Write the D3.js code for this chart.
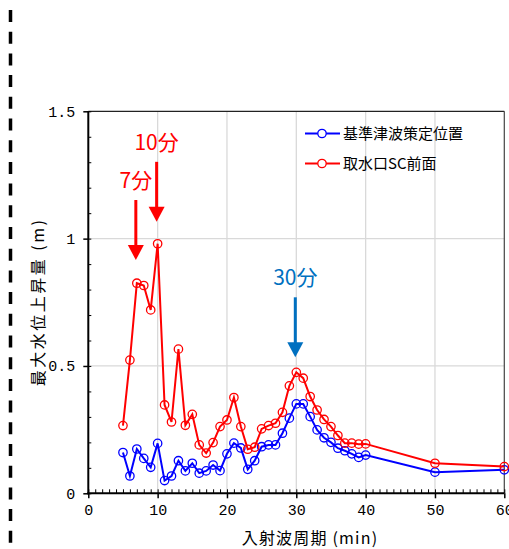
<!DOCTYPE html>
<html>
<head>
<meta charset="utf-8">
<script src="https://cdn.jsdelivr.net/npm/d3@7/dist/d3.min.js"></script>
<style>
  html, body { margin: 0; padding: 0; background: #fff; }
  svg { display: block; }
  text { font-family: 'Noto Sans CJK JP', sans-serif; }
  .tick text { font-family: 'Liberation Mono', 'Noto Sans CJK JP', monospace; }
</style>
</head>
<body>
<svg id="chart" width="509" height="549"></svg>
<script>
// ---- Data ----
const periods = [5,6,7,8,9,10,11,12,13,14,15,16,17,18,19,20,21,22,23,24,25,26,27,28,29,30,31,32,33,34,35,36,37,38,39,40,50,60];
const kijunValues = [0.160,0.068,0.174,0.137,0.102,0.196,0.050,0.068,0.128,0.088,0.118,0.079,0.088,0.111,0.089,0.155,0.197,0.178,0.094,0.128,0.183,0.190,0.190,0.236,0.295,0.351,0.351,0.301,0.249,0.218,0.200,0.177,0.167,0.155,0.141,0.150,0.083,0.092];
const intakeValues = [0.266,0.523,0.825,0.816,0.720,0.980,0.347,0.280,0.566,0.267,0.310,0.190,0.158,0.199,0.262,0.288,0.376,0.262,0.173,0.181,0.253,0.266,0.275,0.318,0.422,0.475,0.452,0.380,0.327,0.290,0.262,0.227,0.197,0.197,0.193,0.194,0.118,0.105];
const seriesNames = ["基準津波策定位置", "取水口SC前面"];
const seriesColors = ["#0000FF", "#FF0000"];
const xTickValues = [0,10,20,30,40,50,60];
const yTickValues = [0,0.5,1,1.5];
const yTickLabels = ["0","0.5","1","1.5"];
const xLabel = "入射波周期 (min)";
const yLabel = "最大水位上昇量 (m)";
const annotations = [
  { period: 10, tip: 1.066, text: "10分", color: "#FF0000" },
  { period: 7,  tip: 0.916, text: "7分",  color: "#FF0000" },
  { period: 30, tip: 0.534, text: "30分", color: "#0070C0" }
];

// ---- Layout ----
const svg = d3.select("#chart");
const x = d3.scaleLinear().domain([0, 60]).range([88.3, 504.3]);
const y = d3.scaleLinear().domain([0, 1.5]).range([493.3, 111.3]);
const x0 = x.range()[0], x1 = x.range()[1], y0 = y.range()[0], y1 = y.range()[1];

// left dashed border
svg.append("line")
  .attr("x1", 10.5).attr("x2", 10.5).attr("y1", 10).attr("y2", 549)
  .attr("stroke", "#000").attr("stroke-width", 3.5)
  .attr("stroke-dasharray", "12,9.7");

// gridlines
svg.append("g").selectAll("line").data([10,20,30,40,50]).join("line")
  .attr("x1", d => x(d)).attr("x2", d => x(d)).attr("y1", y1).attr("y2", y0)
  .attr("stroke", "#d9d9d9").attr("stroke-width", 1.3);
svg.append("g").selectAll("line").data([0.5, 1]).join("line")
  .attr("x1", x0).attr("x2", x1).attr("y1", d => y(d)).attr("y2", d => y(d))
  .attr("stroke", "#d9d9d9").attr("stroke-width", 1.3);

// frame top/right
svg.append("line").attr("x1", x0).attr("x2", x1).attr("y1", y1).attr("y2", y1)
  .attr("stroke", "#222").attr("stroke-width", 1.2);
svg.append("line").attr("x1", x1).attr("x2", x1).attr("y1", y1).attr("y2", y0)
  .attr("stroke", "#444").attr("stroke-width", 1.2);

// minor x ticks
const xMinor = svg.append("g").attr("transform", `translate(0,${y0})`)
  .call(d3.axisBottom(x).tickValues(d3.range(0, 61, 1)).tickSize(-4).tickFormat(""));
xMinor.select(".domain").remove();
xMinor.selectAll("line").attr("stroke", "#000").attr("stroke-width", 1);

// major x axis
const xAxis = svg.append("g").attr("transform", `translate(0,${y0})`)
  .call(d3.axisBottom(x).tickValues(xTickValues).tickSize(5).tickPadding(6).tickFormat(d3.format("d")));
xAxis.select(".domain").remove();
xAxis.selectAll("line").attr("stroke", "#000").attr("stroke-width", 1.5);
xAxis.selectAll("text").attr("font-size", 15).attr("fill", "#000");

// minor y ticks
const yMinor = svg.append("g").attr("transform", `translate(${x0},0)`)
  .call(d3.axisLeft(y).tickValues(d3.range(0, 16).map(i => i / 10)).tickSize(-3).tickFormat(""));
yMinor.select(".domain").remove();
yMinor.selectAll("line").attr("stroke", "#000").attr("stroke-width", 1);

// major y axis
const yAxis = svg.append("g").attr("transform", `translate(${x0},0)`)
  .call(d3.axisLeft(y).tickValues(yTickValues).tickSize(5).tickPadding(8)
    .tickFormat((d, i) => yTickLabels[i]));
yAxis.select(".domain").remove();
yAxis.selectAll("line").attr("stroke", "#000").attr("stroke-width", 1.5);
yAxis.selectAll("text").attr("font-size", 15).attr("fill", "#000");

// axis lines
svg.append("line").attr("x1", x0).attr("x2", x0).attr("y1", y1).attr("y2", y0 + 1)
  .attr("stroke", "#000").attr("stroke-width", 2);
svg.append("line").attr("x1", x0 - 1).attr("x2", x1).attr("y1", y0).attr("y2", y0)
  .attr("stroke", "#000").attr("stroke-width", 2);

// series
const line = d3.line().x(d => x(d[0])).y(d => y(d[1]));
const allSeries = [kijunValues, intakeValues];
allSeries.forEach((vals, si) => {
  const pts = periods.map((p, i) => [p, vals[i]]);
  svg.append("path").datum(pts).attr("d", line)
    .attr("fill", "none").attr("stroke", seriesColors[si]).attr("stroke-width", 2);
  svg.append("g").selectAll("circle").data(pts).join("circle")
    .attr("cx", d => x(d[0])).attr("cy", d => y(d[1])).attr("r", 4.2)
    .attr("fill", "none").attr("stroke", seriesColors[si]).attr("stroke-width", 1.3);
});

// legend
const legend = svg.append("g");
seriesNames.forEach((name, i) => {
  const ly = 133.5 + i * 30;
  legend.append("line").attr("x1", 305).attr("x2", 340).attr("y1", ly).attr("y2", ly)
    .attr("stroke", seriesColors[i]).attr("stroke-width", 2);
  legend.append("circle").attr("cx", 322).attr("cy", ly).attr("r", 4.2)
    .attr("fill", "#fff").attr("stroke", seriesColors[i]).attr("stroke-width", 1.3);
  legend.append("text").attr("x", 343).attr("y", ly + 5.5).attr("font-size", 15)
    .attr("fill", "#000").text(name);
});

// annotations
annotations.forEach(a => {
  const ax = x(a.period) - 1;
  const tipY = y(a.tip);
  const g = svg.append("g");
  g.append("line").attr("x1", ax).attr("x2", ax).attr("y1", tipY - 60).attr("y2", tipY - 14)
    .attr("stroke", a.color).attr("stroke-width", 3);
  g.append("path")
    .attr("d", `M${ax - 8},${tipY - 15} L${ax + 8},${tipY - 15} L${ax},${tipY} Z`)
    .attr("fill", a.color);
  g.append("text").attr("x", ax).attr("y", tipY - 72).attr("text-anchor", "middle")
    .attr("font-size", 21).attr("fill", a.color).text(a.text);
});

// axis titles
svg.append("text").attr("x", 310).attr("y", 544).attr("text-anchor", "middle")
  .attr("font-size", 16).attr("letter-spacing", 1.2).attr("fill", "#000").text(xLabel);
svg.append("text").attr("transform", "translate(44,302) rotate(-90)")
  .attr("text-anchor", "middle").attr("font-size", 16).attr("letter-spacing", 2.5)
  .attr("fill", "#000").text(yLabel);
</script>
</body>
</html>
